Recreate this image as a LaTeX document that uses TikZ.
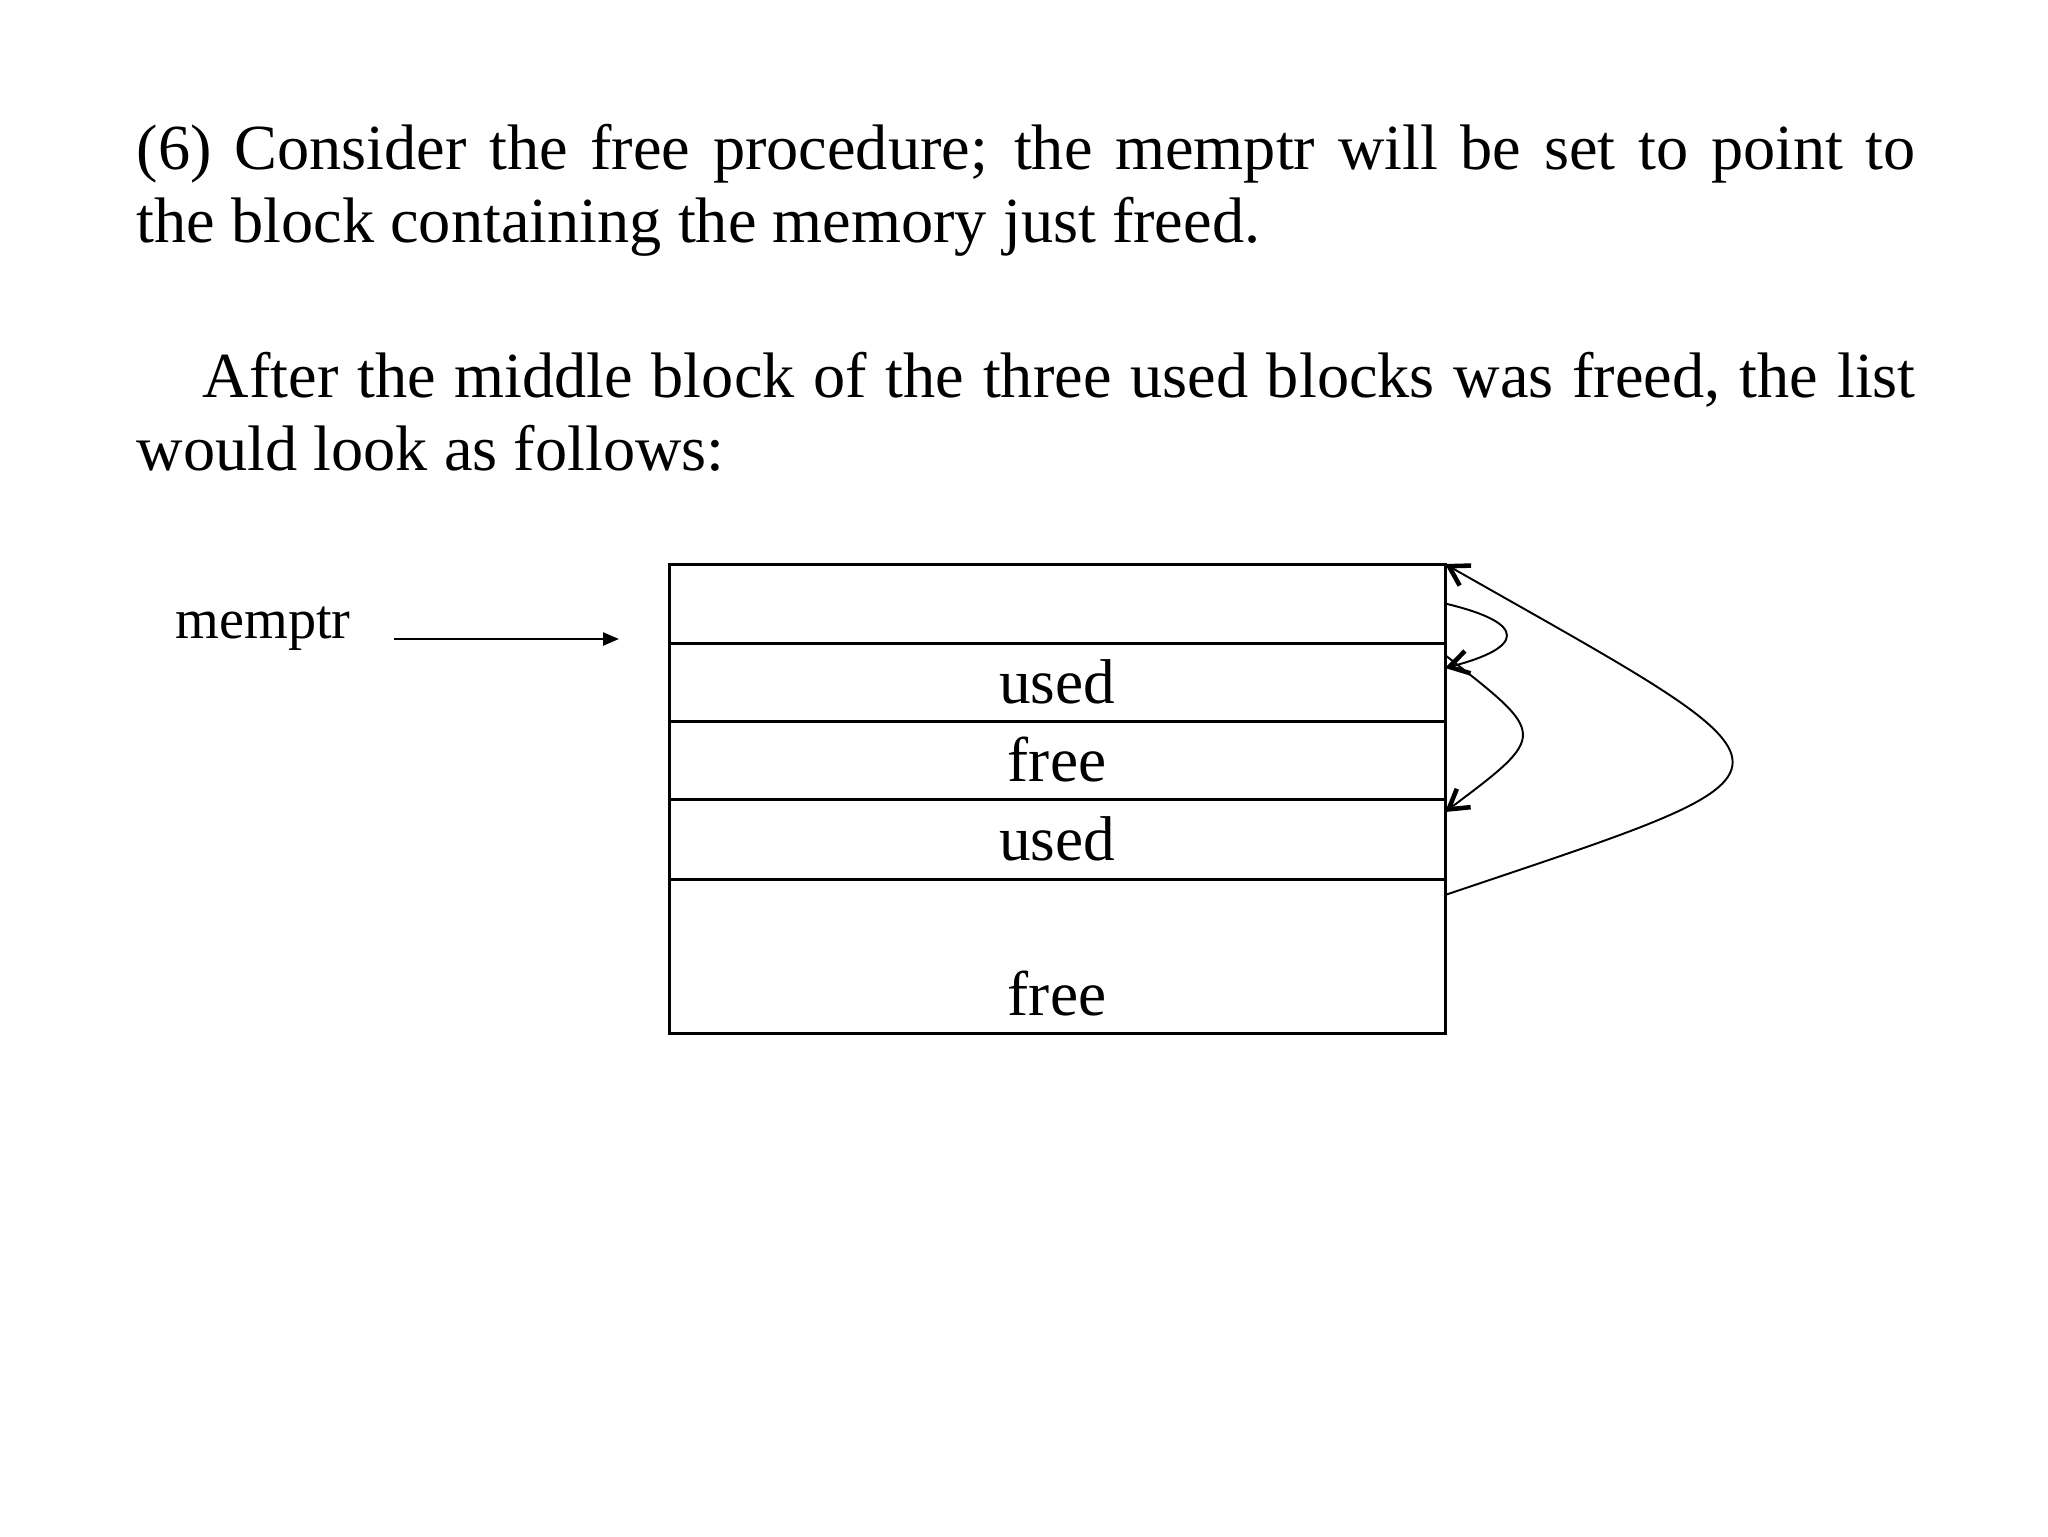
\documentclass[tikz,border=0pt]{standalone}
\usepackage{fontspec}
\setmainfont{Liberation Serif}
\usetikzlibrary{arrows.meta,positioning}

\begin{document}
\begin{tikzpicture}[x=1mm, y=-1mm,
    para/.style={anchor=base west, inner sep=0pt, text width=177.9mm, align=justify,
                 font=\fontsize{18.3}{21}\selectfont},
    memrow/.style={rectangle, draw, line width=0.85pt, outer sep=0pt, inner sep=0pt,
                   minimum width=77.6mm, font=\fontsize{18}{21}\selectfont},
    link/.style={line width=0.55pt, -{Straight Barb[length=1.9mm, width=2.3mm, line width=1.3pt]}},
    ptr/.style={line width=0.7pt, -{Triangle[length=1.6mm, width=1.3mm]}}]
\useasboundingbox (0,0) rectangle (204.8,153.6);
% the two paragraphs of the slide
\node[para] (intro) at (13.6,16.9) {(6) Consider the free procedure; the memptr will be set to point to\linebreak the block containing the memory just freed.};
\node[para] (after) at (13.6,39.7) {\hspace*{6.6mm}After the middle block of the three used blocks was freed, the list\linebreak would look as follows:};
% memory list, one row per block
\node[memrow, minimum height=7.9mm] (head) at (105.7,60.35) {};
\node[memrow, minimum height=7.8mm, below=0pt of head] (used1) {used};
\node[memrow, minimum height=7.8mm, below=0pt of used1] (free1) {free};
\node[memrow, minimum height=8.0mm, below=0pt of free1] (used2) {used};
\node[memrow, minimum height=15.4mm, text height=11.8mm, text depth=0pt, below=0pt of used2] (tail) {free};
% memptr points at the list
\node[font=\fontsize{16}{19}\selectfont, inner sep=0pt] (memptr) at (26.3,62.9) {memptr};
\coordinate (ptrtail) at (39.4,63.9);
\coordinate (ptrtip) at (61.9,63.9);
\draw[ptr] (ptrtail) -- (ptrtip);
% free list links on the right side
\draw[link] (head.east) .. controls +(8.5,2) and +(7.8,-2) .. ([yshift=1.4mm]used1.east);
\draw[link] ([yshift=2.7mm]used1.east) .. controls +(10.2,8) and +(10.4,-7.8) .. ([yshift=2.7mm]used2.east);
\draw[link] ([yshift=-1.6mm]tail.north east) .. controls +(38.5,-13) and +(38,21.6) .. (head.north east);
\end{tikzpicture}
\end{document}
